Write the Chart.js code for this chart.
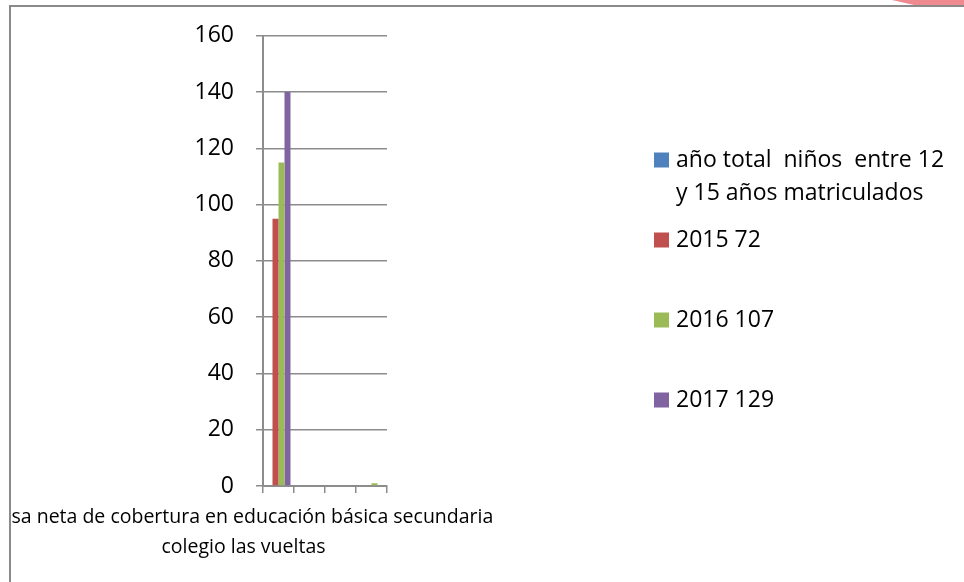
<!DOCTYPE html>
<html>
<head>
<meta charset="utf-8">
<script src="https://cdn.jsdelivr.net/npm/chart.js@4.4.0/dist/chart.umd.min.js"></script>
<style>
  html, body { margin: 0; padding: 0; background: #fff; overflow: hidden; }
  #marco {
    position: absolute; left: 9px; top: 5px; width: 960px; height: 580px;
    border-left: 2px solid #8a8a8a; border-top: 2px solid #8a8a8a; overflow: hidden;
  }
  #chart { position: absolute; left: -11px; top: -7px; }
  #esquina {
    position: absolute; left: 880px; top: 0; width: 84px; height: 5px; background: #ef8a90;
    clip-path: polygon(12px 0, 100% 0, 100% 100%, 34px 100%);
  }
</style>
</head>
<body>
<div id="esquina"></div>
<div id="marco"><canvas id="chart" width="964" height="582"></canvas></div>
<script>
const categorias = [["tasa neta de cobertura en educación básica secundaria", "colegio las vueltas"], "", "", ""];
const series = ["año total  niños  entre 12 y 15 años matriculados", "2015 72", "2016 107", "2017 129"];
const totalNinos = [0, 0, 0, 0];
const anio2015 = [95, 0, 0, 0];
const anio2016 = [115, 0, 0, 1];
const anio2017 = [140, 0, 0, 0];
const colores = ["#4f81bd", "#c0504d", "#9bbb59", "#8064a2"];
const ejeMin = 0, ejeMax = 160, paso = 20;

const fuente = '"Open Sans", "Noto Sans", sans-serif';
const gris = "#8c8c8c";

// parte el texto de la leyenda en lineas
function partir(ctx, texto, ancho) {
    const palabras = texto.split(" ");
    const lineas = [];
    let actual = "";
    for (let i = 0; i < palabras.length; i++) {
        const prueba = actual === "" ? palabras[i] : actual + " " + palabras[i];
        if (ctx.measureText(prueba).width > ancho && actual.trim() !== "") {
            lineas.push(actual);
            actual = palabras[i];
        } else {
            actual = prueba;
        }
    }
    lineas.push(actual);
    return lineas;
}

const leyenda = {
    id: "leyenda",
    afterDraw(chart, args, opts) {
        const ctx = chart.ctx;
        ctx.save();
        ctx.font = "23px " + fuente;
        ctx.textBaseline = "middle";
        ctx.textAlign = "left";
        let y = opts.top;
        chart.data.datasets.forEach((ds) => {
            const lineas = partir(ctx, ds.label, opts.maxWidth);
            ctx.fillStyle = ds.backgroundColor;
            ctx.fillRect(opts.left, y - 7.5, 15, 15);
            ctx.fillStyle = "#000";
            lineas.forEach((l, j) => ctx.fillText(l, opts.left + 22, y + j * opts.lineHeight));
            y += opts.spacing;
        });
        ctx.restore();
    }
};

const valores = [totalNinos, anio2015, anio2016, anio2017];

const chart = new Chart(document.getElementById("chart").getContext("2d"), {
    type: "bar",
    data: {
        labels: categorias,
        datasets: series.map((nombre, i) => ({
            label: nombre,
            data: valores[i],
            backgroundColor: colores[i],
            categoryPercentage: 0.774,
            barPercentage: 1
        }))
    },
    options: {
        responsive: false,
        animation: false,
        layout: { padding: { left: 0, top: 35, right: 577, bottom: 0 } },
        plugins: {
            legend: { display: false },
            tooltip: { enabled: false },
            leyenda: { left: 654, top: 160, spacing: 80, lineHeight: 33, maxWidth: 275 }
        },
        scales: {
            x: {
                offset: true,
                grid: { display: true, drawOnChartArea: false, drawTicks: true, tickLength: 7, color: gris, lineWidth: 1.5, offset: true },
                border: { display: true, color: gris, width: 2 },
                ticks: {
                    color: "#000", font: { family: fuente, size: 19.5, lineHeight: 1.55 },
                    maxRotation: 0, minRotation: 0, autoSkip: false, padding: 9, labelOffset: -35
                },
                // el rotulo largo se deja salir por la izquierda
                afterFit(scale) {
                    scale.height = 96;
                    scale.paddingLeft = 0;
                    scale.paddingRight = 0;
                }
            },
            y: {
                min: ejeMin, max: ejeMax,
                grid: { color: gris, lineWidth: 1.5, tickLength: 7 },
                border: { display: true, color: gris, width: 2 },
                ticks: { stepSize: paso, color: "#000", font: { family: fuente, size: 23 }, padding: 22 },
                afterFit(scale) { scale.width = 263; }
            }
        }
    },
    plugins: [leyenda]
});
</script>
</body>
</html>
